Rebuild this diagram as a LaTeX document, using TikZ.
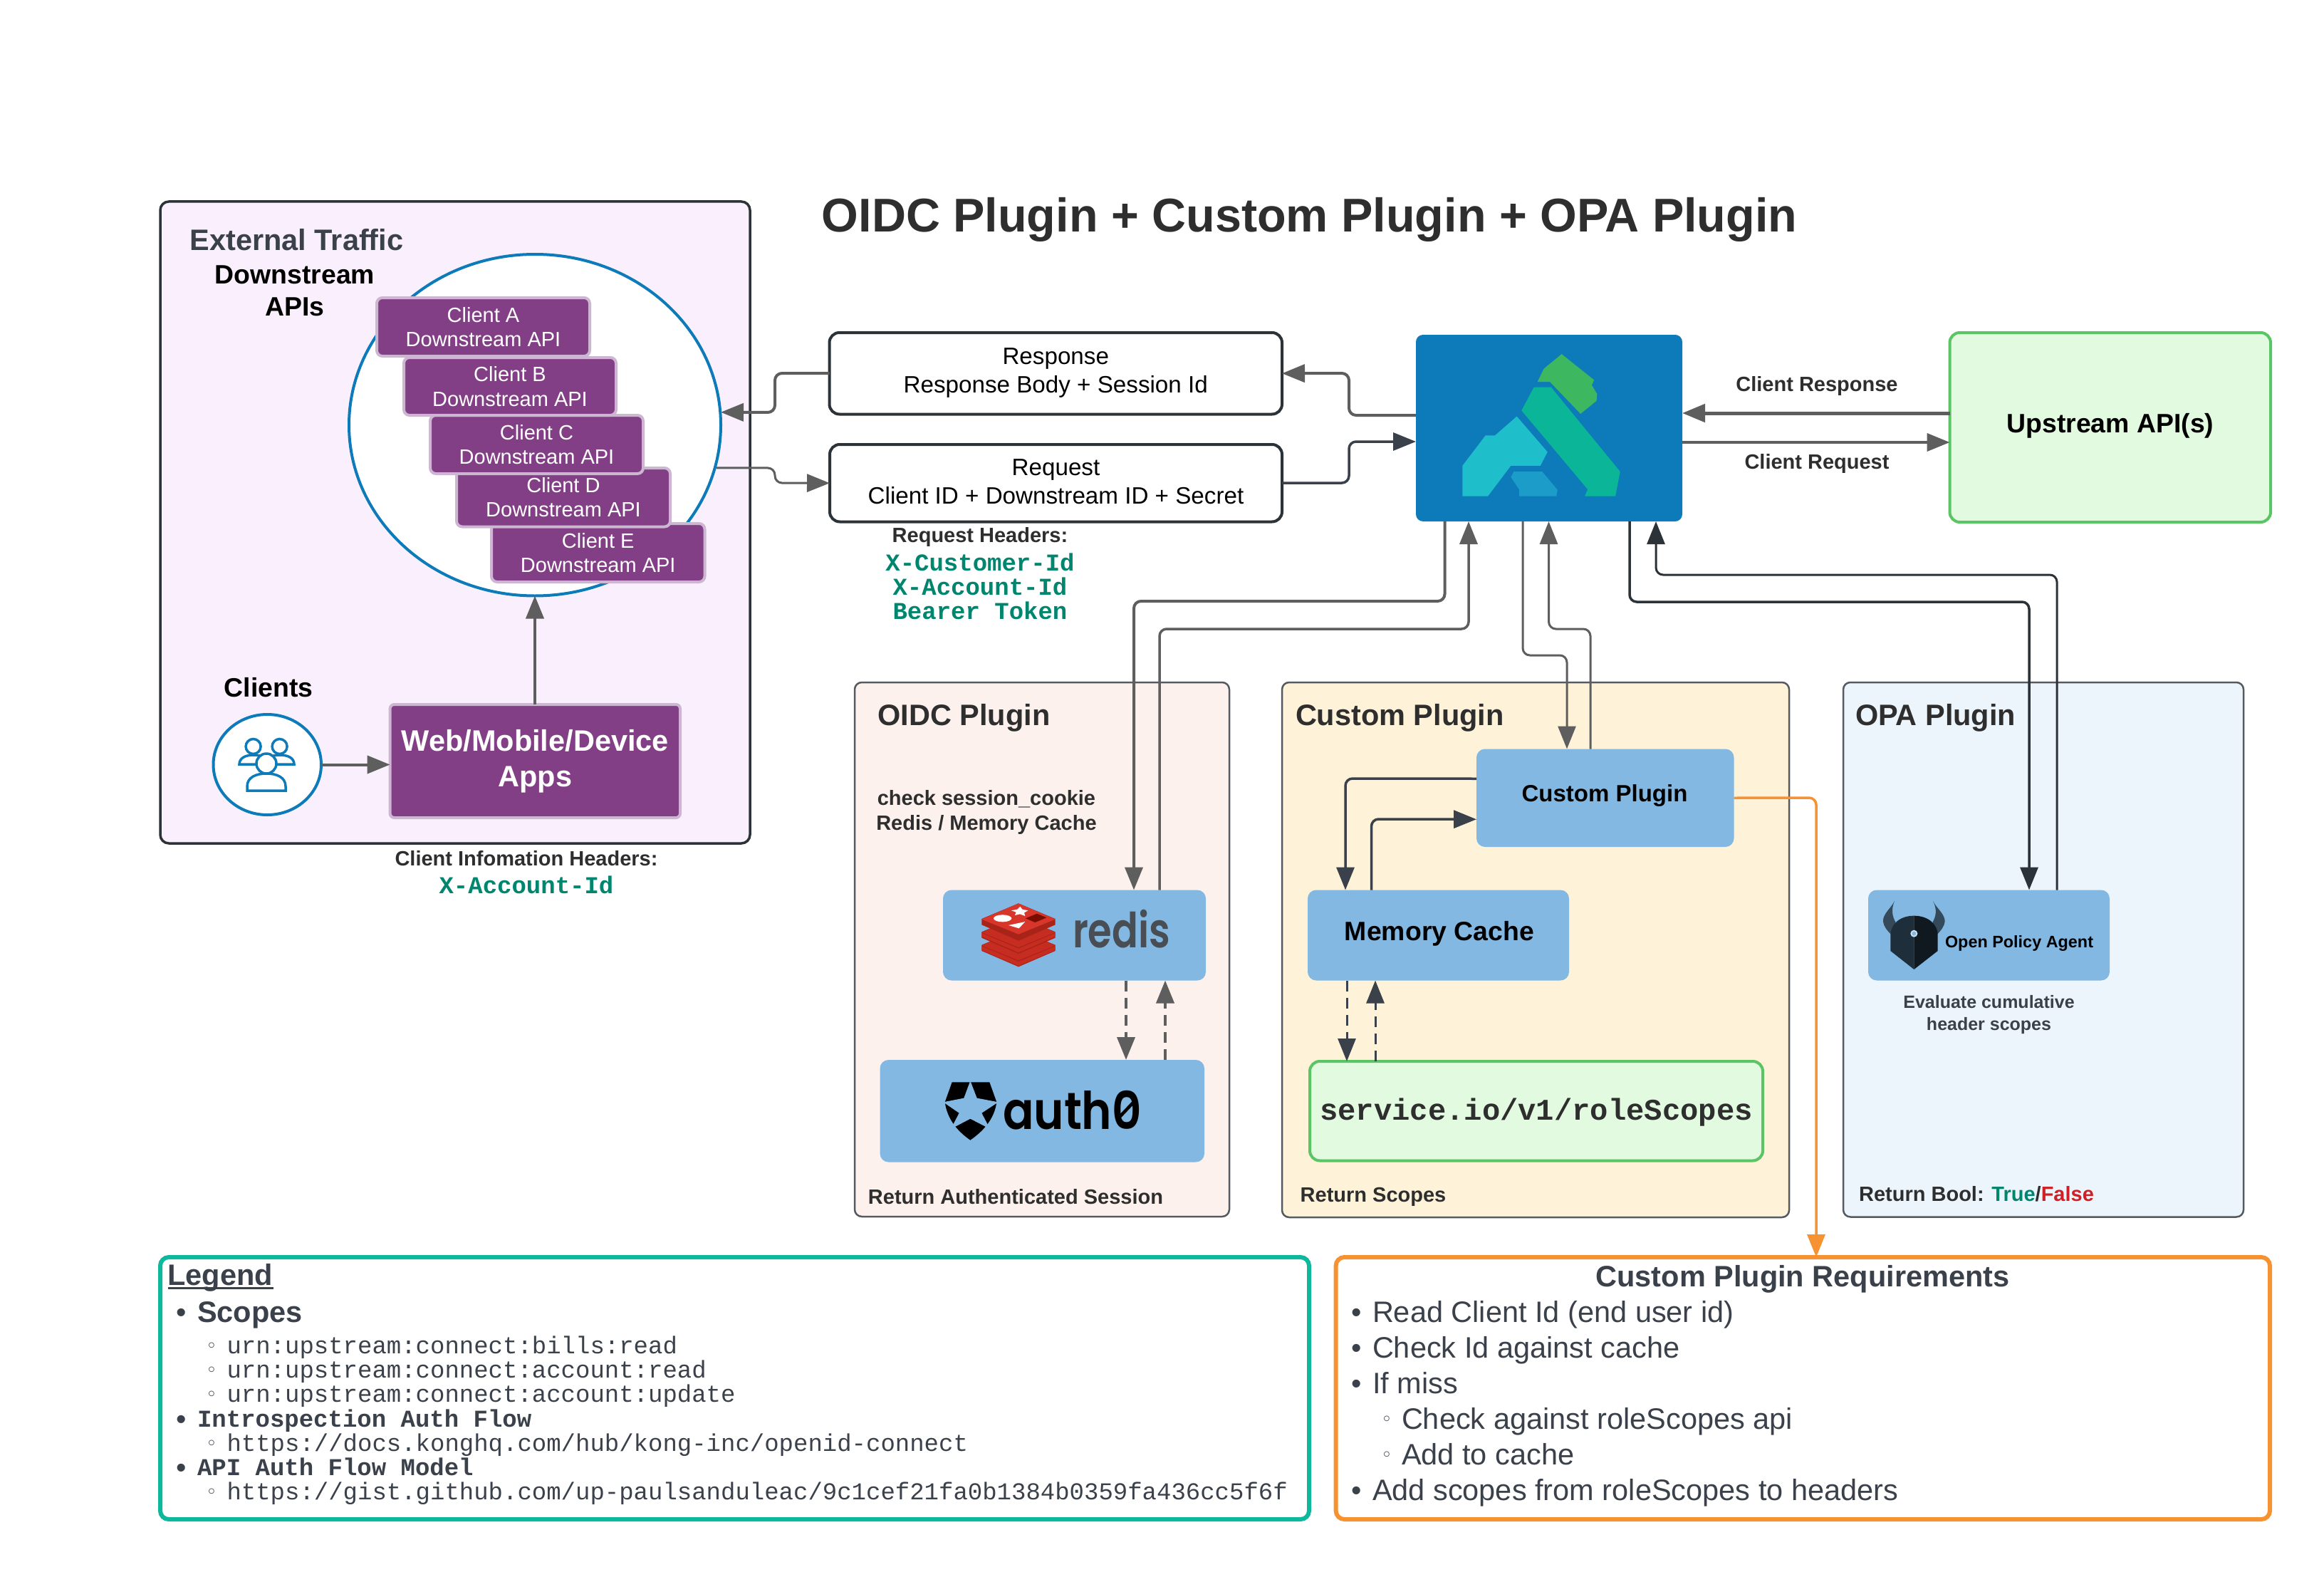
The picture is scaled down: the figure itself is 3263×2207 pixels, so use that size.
\documentclass[tikz,border=0pt]{standalone}
\usepackage{fontspec}
\usepackage{graphicx}
\setmainfont{Liberation Sans}
\setmonofont{Liberation Mono}
\newfontfamily\djv{DejaVu Sans}
\newfontfamily\popps{Poppins SemiBold}
\usetikzlibrary{arrows.meta,shapes.geometric}
\definecolor{inktext}{HTML}{3A414A}
\definecolor{titletext}{HTML}{2E2E2E}
\definecolor{greyline}{HTML}{5E5E5E}
\definecolor{darkline}{HTML}{2B3238}
\definecolor{slateline}{HTML}{3A414A}
\definecolor{purplefill}{HTML}{833F86}
\definecolor{purpleedge}{HTML}{CDB6D2}
\definecolor{lilac}{HTML}{FAF0FD}
\definecolor{kongblue}{HTML}{0D7ABA}
\definecolor{skybox}{HTML}{83B8E2}
\definecolor{mintfill}{HTML}{E2FAE0}
\definecolor{mintedge}{HTML}{5BC464}
\definecolor{rosefill}{HTML}{FDF1EE}
\definecolor{creamfill}{HTML}{FEF3D9}
\definecolor{icefill}{HTML}{EDF5FC}
\definecolor{panelline}{HTML}{555A60}
\definecolor{codegreen}{HTML}{00866E}
\definecolor{falsered}{HTML}{D01F25}
\definecolor{orangeline}{HTML}{F79232}
\definecolor{tealline}{HTML}{0DB89C}
\definecolor{redisside}{HTML}{A82419}
\definecolor{redistop}{HTML}{D8362A}
\definecolor{redislow}{HTML}{C62C20}
\newcommand{\mkbox}[7][]{\pgfmathsetmacro\mbw{#5-#3}\pgfmathsetmacro\mbh{#6-#4}\pgfmathsetmacro\mcx{(#3+#5)/2}\pgfmathsetmacro\mcy{(#4+#6)/2}\node[inner sep=0,outer sep=0,minimum width=\mbw pt,minimum height=\mbh pt,align=center,#1] (#2) at (\mcx,\mcy) {#7};}
\newcommand{\mktext}[6][]{\pgfmathsetmacro\mby{#4+0.35*#5}\node[inner sep=0,outer sep=0,anchor=base,font=\fontsize{#5}{#5}\selectfont,#1] (#2) at (#3,\mby) {#6};}
\tikzset{
 extpanel/.style={draw=darkline,line width=3.5pt,fill=lilac,rounded corners=12pt},
 dsellipse/.style={shape=ellipse,draw=kongblue,line width=4pt,fill=white},
 clientbox/.style={draw=purpleedge,line width=4pt,fill=purplefill,rounded corners=8pt,text=white,font=\fontsize{29}{34.5}\selectfont},
 appbox/.style={draw=purpleedge,line width=4pt,fill=purplefill,rounded corners=6pt,text=white,font=\bfseries\fontsize{41.5}{50}\selectfont},
 msgbox/.style={draw=darkline,line width=4pt,fill=white,rounded corners=14pt,text=black,font=\fontsize{33.2}{40}\selectfont},
 kongbox/.style={fill=kongblue,rounded corners=10pt},
 mintbox/.style={draw=mintedge,line width=4pt,fill=mintfill,rounded corners=14pt},
 panel/.style={draw=panelline,line width=2.5pt,rounded corners=10pt},
 skyrect/.style={fill=skybox,rounded corners=12pt},
 legendbox/.style={draw=tealline,line width=6pt,fill=white,rounded corners=12pt},
 reqbox/.style={draw=orangeline,line width=6pt,fill=white,rounded corners=12pt},
 inkbold/.style={text=inktext,font=\bfseries\fontsize{41.5}{41.5}\selectfont},
 arrowgrey/.style={draw=greyline,line width=4pt,rounded corners=10pt,-{Triangle[length=32pt,width=25pt]}},
 arrowdark/.style={draw=darkline,line width=3.5pt,rounded corners=10pt,-{Triangle[length=32pt,width=25pt]}},
 arrowslate/.style={draw=slateline,line width=3.5pt,rounded corners=10pt,-{Triangle[length=32pt,width=25pt]}},
 arroworange/.style={draw=orangeline,line width=3.5pt,rounded corners=10pt,-{Triangle[length=32pt,width=25pt]}},
 dashflow/.style={dash pattern=on 15pt off 9pt},
 peopleline/.style={draw=kongblue,line width=3.5pt,fill=white},
}
\begin{document}
\begin{tikzpicture}[x=1pt,y=-1pt]
\useasboundingbox (0,0) rectangle (3263,2207);
% External traffic panel
\mkbox[extpanel]{ext}{225}{283}{1053}{1184}{}
\mkbox[dsellipse]{circ}{490}{357}{1012}{836.5}{}
\mkbox[clientbox]{ce}{690}{735}{989.5}{817}{Client E\\Downstream API}
\mkbox[clientbox]{cd}{641}{657}{941}{739.5}{Client D\\Downstream API}
\mkbox[clientbox]{cc}{604}{583}{903}{665}{Client C\\Downstream API}
\mkbox[clientbox]{cb}{567}{502}{865}{583}{Client B\\Downstream API}
\mkbox[clientbox]{ca}{529}{418}{828}{500}{Client A\\Downstream API}
\mktext[inkbold,anchor=base west]{exttitle}{266.5}{337}{41}{External Traffic}
\mktext[font=\bfseries\fontsize{37.4}{37.4}\selectfont]{dsa}{414}{385.5}{37}{Downstream}
\mktext[font=\bfseries\fontsize{37.4}{37.4}\selectfont]{dsb}{414}{430.5}{37}{APIs}
\mktext[font=\bfseries\fontsize{37.4}{37.4}\selectfont]{clientslbl}{377}{966}{37}{Clients}
\mkbox[draw=kongblue,line width=4pt,fill=white,shape=ellipse]{peoplec}{299.5}{1003}{451}{1144}{}
\mkbox[appbox]{web}{547.6}{989}{955}{1148}{Web/Mobile/Device\\Apps\rule[-5pt]{0pt}{1pt}}
% people icon
\begin{scope}[shift={(0,16)}]
\draw[peopleline] (355.6,1032) circle (10.5);
\draw[peopleline] (392.6,1032) circle (10.5);
\draw[peopleline] (336,1057) .. controls (336,1048) and (345,1044) .. (356,1044) .. controls (367,1044) and (376,1048) .. (376,1057) -- cycle;
\draw[peopleline] (373,1057) .. controls (373,1048) and (382,1044) .. (393,1044) .. controls (404,1044) and (413,1048) .. (413,1057) -- cycle;
\draw[peopleline] (347,1094) -- (347,1088) .. controls (347,1075) and (360,1070) .. (374,1070) .. controls (388,1070) and (401,1075) .. (401,1088) -- (401,1094) -- cycle;
\draw[peopleline] (374,1056) circle (14);
\end{scope}
\draw[arrowgrey] (peoplec.east) -- (peoplec.east -| web.west);
\draw[arrowgrey] (circ.south |- web.north) -- (circ.south);
\mktext[font=\bfseries\fontsize{29}{29}\selectfont,text=titletext]{cih}{739}{1205}{29}{Client Infomation Headers:}
\mktext[font=\ttfamily\bfseries\fontsize{34}{34}\selectfont,text=codegreen]{cihv}{739}{1242.5}{34}{X-Account-Id}
% Title
\mktext[font=\bfseries\fontsize{66.5}{66.5}\selectfont,text=titletext]{title}{1838.5}{302}{66.5}{OIDC Plugin + Custom Plugin + OPA Plugin}
% messages
\mkbox[msgbox]{resp}{1164.5}{467}{1800}{581.5}{Response\\Response Body + Session Id\rule[-8pt]{0pt}{1pt}}
\mkbox[msgbox]{requ}{1165}{624}{1800}{732.5}{Request\\Client ID + Downstream ID + Secret\rule[-4pt]{0pt}{1pt}}
\mktext[font=\bfseries\fontsize{29}{29}\selectfont,text=titletext]{rqh}{1376}{751.5}{29}{Request Headers:}
\mktext[font=\ttfamily\bfseries\fontsize{34}{34}\selectfont,text=codegreen]{rqa}{1376}{790}{34}{X-Customer-Id}
\mktext[font=\ttfamily\bfseries\fontsize{34}{34}\selectfont,text=codegreen]{rqb}{1376}{824}{34}{X-Account-Id}
\mktext[font=\ttfamily\bfseries\fontsize{34}{34}\selectfont,text=codegreen]{rqc}{1376}{858}{34}{Bearer Token}
% Kong
\mkbox[kongbox]{kong}{1988}{470}{2362}{732}{}
\begin{scope}[shift={(1900,430)},x=0.829pt,y=-0.357pt]
\fill[fill={rgb,255:red,61;green,183;blue,96}] (353,188) -- (408,290) -- (404,310) -- (413,345) -- (412,372) -- (385,423) -- (333,297) -- (312,297) -- (323,245) -- cycle;
\fill[fill={rgb,255:red,11;green,181;blue,151}] (306,318) -- (335,318) -- (452,650) -- (444,747) -- (392,747) -- (397,720) -- (285,410) -- cycle;
\fill[fill={rgb,255:red,31;green,190;blue,203}] (277,433) -- (329,573) -- (317,627) -- (267,627) -- (228,747) -- (185,747) -- (185,627) -- (224,508) -- (240,508) -- cycle;
\fill[fill={rgb,255:red,28;green,156;blue,201}] (272,650) -- (320,650) -- (346,722) -- (344,747) -- (281,747) -- (281,720) -- (267,672) -- cycle;
\end{scope}
\mkbox[mintbox]{up}{2737.5}{467}{3188}{733}{}
\mktext[font=\bfseries\fontsize{37.4}{37.4}\selectfont]{uplbl}{2963}{595}{37}{Upstream API(s)}
\mktext[font=\bfseries\fontsize{29}{29}\selectfont,text=titletext]{crsp}{2551}{539}{29}{Client Response}
\mktext[font=\bfseries\fontsize{29}{29}\selectfont,text=titletext]{crqt}{2551}{648}{29}{Client Request}
% plugin panels
\mkbox[panel,fill=rosefill]{oidc}{1200}{958}{1726}{1708}{}
\mkbox[panel,fill=creamfill]{cust}{1800}{958}{2512}{1709}{}
\mkbox[panel,fill=icefill]{opap}{2588}{958}{3150}{1708.5}{}
\mktext[inkbold,text=titletext,anchor=base west]{oidclbl}{1232.5}{1004}{41}{OIDC Plugin}
\mktext[inkbold,text=titletext,anchor=base west]{custlbl}{1819}{1004}{41}{Custom Plugin}
\mktext[inkbold,text=titletext,anchor=base west]{opalbl}{2605}{1004}{41}{OPA Plugin}
\mktext[font=\bfseries\fontsize{29}{29}\selectfont,text=titletext]{sess}{1385}{1120}{29}{check session\_cookie}
\mktext[font=\bfseries\fontsize{29}{29}\selectfont,text=titletext]{rmc}{1385}{1155}{29}{Redis / Memory Cache}
\mktext[font=\bfseries\fontsize{29}{29}\selectfont,text=titletext]{ras}{1426}{1680}{29}{Return Authenticated Session}
\mktext[font=\bfseries\fontsize{29}{29}\selectfont,text=titletext]{rsc}{1928}{1677}{29}{Return Scopes}
\mktext[font=\bfseries\fontsize{29}{29}\selectfont,text=titletext]{rbo}{2775}{1676}{29}{Return Bool: \textcolor{codegreen}{True}/\textcolor{falsered}{False}}
% inner boxes
\mkbox[skyrect]{redis}{1324}{1249.5}{1693}{1376.5}{}
\mkbox[skyrect]{auth}{1235.5}{1488}{1691}{1631.5}{}
\mkbox[skyrect]{custom}{2073}{1051.5}{2434.5}{1189}{}
\mkbox[skyrect]{mem}{1836}{1249.5}{2203}{1376.5}{}
\mkbox[mintbox]{svc}{1839}{1490}{2475}{1629.5}{}
\mkbox[skyrect]{opa}{2623}{1249.5}{2962}{1376.5}{}
\mktext[font=\bfseries\fontsize{33}{33}\selectfont]{customlbl}{2253}{1114}{33}{Custom Plugin}
\mktext[font=\bfseries\fontsize{37.4}{37.4}\selectfont]{memlbl}{2021}{1307}{37.4}{Memory Cache}
\mktext[font=\ttfamily\bfseries\fontsize{42.2}{42.2}\selectfont,text=titletext]{svclbl}{2157}{1558}{42.2}{service.io/v1/roleScopes}
\mktext[font=\bfseries\fontsize{23.4}{23.4}\selectfont,anchor=base west]{opalogo}{2731}{1322}{23.4}{Open Policy Agent}
\mktext[font=\bfseries\fontsize{25}{25}\selectfont,text=inktext]{eva}{2792.5}{1407}{25}{Evaluate cumulative}
\mktext[font=\bfseries\fontsize{25}{25}\selectfont,text=inktext]{evb}{2792.5}{1437.5}{25}{header scopes}
% redis logo
\begin{scope}[shift={(1310,1260)},x=0.3333pt,y=-0.3333pt]
\foreach \dy/\tp in {110/redislow,55/redislow,0/redistop}{
 \fill[redisside] (205,90+\dy) -- (360,25+\dy) -- (515,90+\dy) -- (515,115+\dy) -- (360,182+\dy) -- (205,115+\dy) -- cycle;
 \fill[\tp] (205,92+\dy) -- (360,25+\dy) -- (515,92+\dy) -- (360,155+\dy) -- cycle;
}
\fill[redislow] (205,150) -- (360,215) -- (515,150) -- (515,165) -- (360,232) -- (205,165) -- cycle;
\fill[redislow] (205,205) -- (360,270) -- (515,205) -- (515,222) -- (360,288) -- (205,222) -- cycle;
\fill[white] (293,88) ellipse (38 and 15);
\fill[white] (367,38) -- (376,50) -- (400,55) -- (384,64) -- (388,78) -- (366,70) -- (345,75) -- (350,62) -- (330,55) -- (355,50) -- cycle;
\fill[white] (318,117) -- (388,102) -- (362,130) -- cycle;
\fill[fill={rgb,255:red,122;green,12;blue,0}] (390,88) -- (438,68) -- (478,85) -- (430,105) -- cycle;
\end{scope}
\mktext[font=\popps\fontsize{68}{68}\selectfont,text={rgb,255:red,72;green,78;blue,83},anchor=base west]{redislbl}{1506}{1306.2}{68}{\scalebox{.8}[1]{redis}}
% auth0 logo
\begin{scope}[shift={(1310,1510)},x=0.3333pt,y=-0.3333pt]
\fill[black] (80,28) -- (238,28) -- (268,112) .. controls (258,185) and (210,235) .. (157,272) .. controls (104,235) and (60,185) .. (50,112) -- cycle;
\fill[skybox] (157,22) -- (185,95) -- (275,112) -- (205,158) -- (240,225) -- (157,182) -- (75,225) -- (110,158) -- (43,112) -- (130,95) -- cycle;
\end{scope}
\mktext[font=\popps\fontsize{73}{73}\selectfont,anchor=base west]{authlbl}{1408}{1559.5}{73}{\scalebox{.88}[1]{auth0}}
\draw[black,line width=4.5pt] (1572,1568) -- (1591,1548);
% opa logo
\begin{scope}[shift={(2630,1255)},x=0.3333pt,y=-0.3333pt]
\fill[fill={rgb,255:red,52;green,73;blue,90}] (90,30) .. controls (75,60) and (40,85) .. (42,115) .. controls (45,140) and (60,155) .. (75,170) -- (95,120) .. controls (80,95) and (75,65) .. (90,30) -- cycle;
\fill[fill={rgb,255:red,52;green,73;blue,90}] (252,30) .. controls (267,60) and (302,85) .. (302,115) .. controls (299,140) and (284,155) .. (270,170) -- (250,120) .. controls (265,95) and (270,65) .. (252,30) -- cycle;
\fill[fill={rgb,255:red,30;green,47;blue,59}] (172,92) .. controls (115,92) and (73,125) .. (73,175) -- (73,240) -- (172,318) -- cycle;
\fill[fill={rgb,255:red,16;green,25;blue,31}] (172,92) .. controls (229,92) and (272,125) .. (272,175) -- (272,240) -- (172,318) -- cycle;
\fill[fill={rgb,255:red,207;green,227;blue,243}] (172,167) circle (15);
\fill[skybox] (172,167) circle (9);
\end{scope}
% connectors
\draw[arrowgrey] (resp.west) -- (1088,524) -- (1088,579) -- ([yshift=18pt]circ.east);
\draw[arrowgrey,line width=3pt] ([shift={(-6.5pt,-60pt)}]circ.east) -- (1088,657) -- (1088,678) -- (requ.west);
\draw[arrowgrey] ([yshift=18pt]kong.west) -- (1894,583) -- (1894,524) -- (resp.east);
\draw[arrowslate] (requ.east) -- (1894,678) -- (1894,620) -- ([yshift=-19pt]kong.west);
\draw[arrowgrey,line width=5pt] (up.west |- 0,580) -- (kong.east |- 0,580);
\draw[arrowgrey] (kong.east |- 0,621) -- (up.west |- 0,621);
\draw[arrowgrey] ([xshift=40.5pt]kong.south west) -- (2028.5,844) -- (1592,844) -- ([xshift=268pt]redis.north west);
\draw[arrowgrey,line width=3.5pt] ([xshift=304pt]redis.north west) -- (1628,883) -- (2062,883) -- ([xshift=74pt]kong.south west);
\draw[arrowgrey,line width=3pt] ([xshift=150pt]kong.south west) -- (2138,920) -- (2200,920) -- ([xshift=127pt]custom.north west);
\draw[arrowgrey,line width=3pt] ([xshift=160pt]custom.north west) -- (2233,883) -- (2174.5,883) -- ([xshift=186.5pt]kong.south west);
\draw[arrowdark] ([xshift=300pt]kong.south west) -- (2288,845) -- (2849,845) -- ([xshift=226pt]opa.north west);
\draw[arrowdark,line width=3pt] ([xshift=265pt]opa.north west) -- (2888,807) -- (2325,807) -- ([xshift=337pt]kong.south west);
\draw[arrowslate] ([yshift=27pt]custom.west) -- (1889,1093) -- ([xshift=53pt]mem.north west);
\draw[arrowslate] ([xshift=89.5pt]mem.north west) -- (1925.5,1150) -- ([yshift=-30pt]custom.west);
\draw[arrowgrey,dashflow] ([xshift=257pt]redis.south west) -- ([xshift=345.5pt]auth.north west);
\draw[arrowgrey,dashflow] ([xshift=400.5pt]auth.north west) -- ([xshift=312pt]redis.south west);
\draw[arrowslate,dashflow,line width=3pt] ([xshift=55pt]mem.south west) -- ([xshift=52pt]svc.north west);
\draw[arrowslate,dashflow,line width=3pt] ([xshift=92pt]svc.north west) -- ([xshift=95pt]mem.south west);
% bottom boxes
\mkbox[legendbox]{legend}{225}{1765}{1838}{2133}{}
\mkbox[reqbox]{reqs}{1875.6}{1765}{3187}{2133}{}
\draw[arroworange] (custom.east) -- (2550,1120) -- ([xshift=674.4pt]reqs.north west);
% legend
\mktext[inkbold,anchor=base west]{lg}{235.5}{1790}{41}{\rlap{\rule[-6pt]{148pt}{3.5pt}}Legend}
\newcommand{\dotb}[3]{\mktext[font=\fontsize{41}{41}\selectfont,text=inktext]{#1}{#2}{#3}{41}{•}}
\newcommand{\ringb}[3]{\mktext[font=\djv\fontsize{26}{26}\selectfont,text=inktext]{#1}{#2}{#3}{26}{◦}}
\dotb{lbu1}{255}{1842}
\mktext[inkbold,anchor=base west]{lt1}{277}{1842}{41}{Scopes}
\ringb{lri1}{297}{1889}
\mktext[font=\ttfamily\fontsize{34}{34}\selectfont,text=inktext,anchor=base west]{lt2}{318.5}{1889}{34}{urn:upstream:connect:bills:read}
\ringb{lri2}{297}{1923}
\mktext[font=\ttfamily\fontsize{34}{34}\selectfont,text=inktext,anchor=base west]{lt3}{318.5}{1923}{34}{urn:upstream:connect:account:read}
\ringb{lri3}{297}{1957}
\mktext[font=\ttfamily\fontsize{34}{34}\selectfont,text=inktext,anchor=base west]{lt4}{318.5}{1957}{34}{urn:upstream:connect:account:update}
\dotb{lbu2}{255}{1992}
\mktext[font=\ttfamily\bfseries\fontsize{34}{34}\selectfont,text=inktext,anchor=base west]{lt5}{277}{1992}{34}{Introspection Auth Flow}
\ringb{lri4}{297}{2026}
\mktext[font=\ttfamily\fontsize{34}{34}\selectfont,text=inktext,anchor=base west]{lt6}{318.5}{2026}{34}{https://docs.konghq.com/hub/kong-inc/openid-connect}
\dotb{lbu3}{255}{2060}
\mktext[font=\ttfamily\bfseries\fontsize{34}{34}\selectfont,text=inktext,anchor=base west]{lt7}{277}{2060}{34}{API Auth Flow Model}
\ringb{lri5}{297}{2094}
\mktext[font=\ttfamily\fontsize{34}{34}\selectfont,text=inktext,anchor=base west]{lt8}{318.5}{2094}{34}{https://gist.github.com/up-paulsanduleac/9c1cef21fa0b1384b0359fa436cc5f6f}
% requirements
\mktext[inkbold]{rqt}{2531}{1792}{41}{Custom Plugin Requirements}
\newcommand{\rqline}[3]{\mktext[font=\fontsize{41.5}{41.5}\selectfont,text=inktext,anchor=base west]{#1}{#2}{#3}{41}}
\dotb{rbu1}{1905}{1842}\rqline{rq1}{1927}{1842}{Read Client Id (end user id)}
\dotb{rbu2}{1905}{1892}\rqline{rq2}{1927}{1892}{Check Id against cache}
\dotb{rbu3}{1905}{1942}\rqline{rq3}{1927}{1942}{If miss}
\ringb{rri1}{1947}{1992}\rqline{rq4}{1968}{1992}{Check against roleScopes api}
\ringb{rri2}{1947}{2042}\rqline{rq5}{1968}{2042}{Add to cache}
\dotb{rbu4}{1905}{2092}\rqline{rq6}{1927}{2092}{Add scopes from roleScopes to headers}
\end{tikzpicture}
\end{document}
